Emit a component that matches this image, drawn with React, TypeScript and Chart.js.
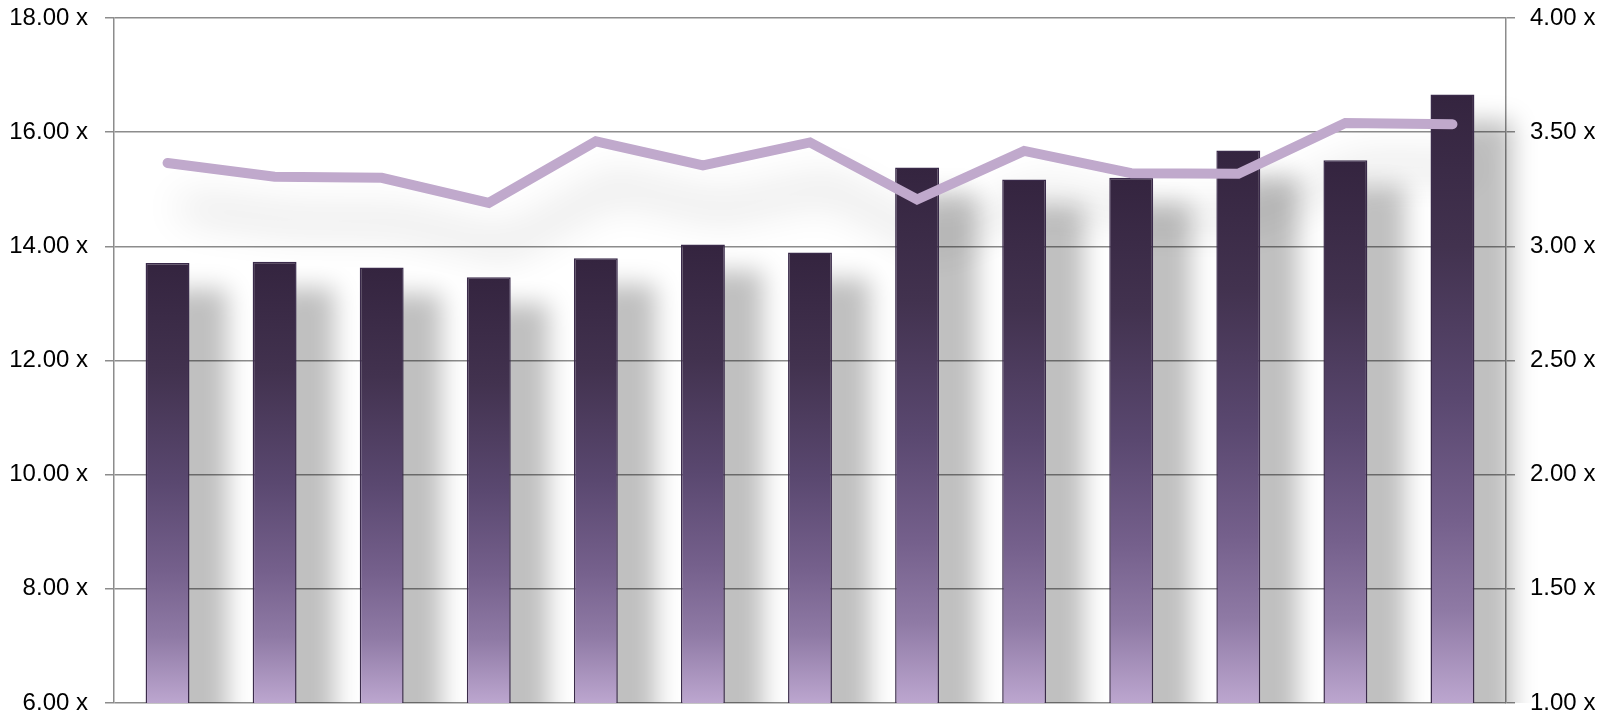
import React, { useEffect, useRef } from "react";
import { Chart, registerables } from "chart.js";

Chart.register(...registerables);

const categories = ["1", "2", "3", "4", "5", "6", "7", "8", "9", "10", "11", "12", "13"];
const barValues = [13.71, 13.73, 13.63, 13.46, 13.79, 14.03, 13.89, 15.38, 15.17, 15.2, 15.68, 15.51, 16.66];
const lineValues = [3.365, 3.305, 3.3, 3.19, 3.46, 3.355, 3.455, 3.205, 3.418, 3.32, 3.318, 3.54, 3.535];
const leftTicks = { min: 6, max: 18, step: 2 };
const rightTicks = { min: 1, max: 4, step: 0.5 };

const FONT = "'Liberation Sans', Arial, sans-serif";
const GRID = "#8c8c8c";

const shadowPlugin = {
  id: "softShadow",
  beforeDatasetsDraw(chart: any) {
    const ctx = chart.ctx;
    const area = chart.chartArea;
    const OFF = 5000;
    const metas = chart.getSortedVisibleDatasetMetas();
    ctx.save();
    ctx.beginPath();
    ctx.rect(area.left, area.top, area.right - area.left + 60, area.bottom - area.top);
    ctx.clip();
    // line shadow (soft, wide)
    for (const meta of metas) {
      if (meta.type !== "line") continue;
      ctx.save();
      ctx.translate(-OFF, 0);
      ctx.shadowColor = "rgba(0,0,0,0.24)";
      ctx.shadowOffsetX = OFF + 18;
      ctx.shadowOffsetY = 44;
      ctx.shadowBlur = 40;
      meta.controller.draw();
      ctx.restore();
    }
    // bar shadows
    for (const meta of metas) {
      if (meta.type !== "bar") continue;
      ctx.save();
      ctx.translate(-OFF, 0);
      ctx.shadowColor = "rgba(0,0,0,0.25)";
      ctx.shadowOffsetX = OFF + 38;
      ctx.shadowOffsetY = 26;
      ctx.shadowBlur = 24;
      ctx.fillStyle = "#000";
      for (const el of meta.data) {
        const p = el.getProps(["x", "y", "base", "width"], true);
        ctx.fillRect(p.x - p.width / 2 - 16, p.y, p.width + 16, p.base - p.y + 40);
      }
      ctx.restore();
    }
    ctx.restore();
  },
};

function barGradient(context: any) {
  const chart = context.chart;
  const area = chart.chartArea;
  if (!area || context.type !== "data") return "#5a4670";
  const yScale = chart.scales.y;
  const top = yScale.getPixelForValue(context.raw);
  const bottom = area.bottom;
  const g = chart.ctx.createLinearGradient(0, top, 0, bottom);
  g.addColorStop(0, "#34243f");
  g.addColorStop(0.25, "#42324f");
  g.addColorStop(0.5, "#5a4870");
  g.addColorStop(0.7, "#75608c");
  g.addColorStop(0.85, "#8f7aa5");
  g.addColorStop(1, "#bca6cf");
  return g;
}

export default function App() {
  const ref = useRef<HTMLCanvasElement | null>(null);

  useEffect(() => {
    if (!ref.current) return;
    const chart = new Chart(ref.current, {
      type: "bar",
      data: {
        labels: categories,
        datasets: [
          {
            type: "line",
            data: lineValues,
            yAxisID: "y1",
            borderColor: "#c0a9cc",
            borderWidth: 10,
            borderCapStyle: "round",
            borderJoinStyle: "miter",
            pointRadius: 0,
            tension: 0,
            order: 0,
          } as any,
          {
            type: "bar",
            data: barValues,
            yAxisID: "y",
            backgroundColor: barGradient,
            borderColor: "#3a2a4a",
            borderWidth: 1.5,
            barPercentage: 0.41,
            categoryPercentage: 1,
            order: 1,
          } as any,
        ],
      },
      options: {
        responsive: false,
        animation: false,
        events: [],
        layout: { padding: { top: 18, bottom: 11, left: 0, right: 0 } },
        plugins: { legend: { display: false }, tooltip: { enabled: false } },
        scales: {
          x: { type: "category", display: false, offset: true, grid: { display: false } },
          y: {
            position: "left",
            min: leftTicks.min,
            max: leftTicks.max,
            ticks: {
              stepSize: leftTicks.step,
              callback: (v: any) => Number(v).toFixed(2) + " x",
              color: "#000",
              font: { family: FONT, size: 24 },
              padding: 17,
            },
            grid: { color: GRID, lineWidth: 1.5, tickLength: 9, tickColor: GRID },
            border: { color: GRID, width: 1.5 },
            afterFit: (s: any) => {
              s.width = 114;
              s.paddingTop = 0;
              s.paddingBottom = 0;
            },
          },
          y1: {
            position: "right",
            min: rightTicks.min,
            max: rightTicks.max,
            ticks: {
              stepSize: rightTicks.step,
              callback: (v: any) => Number(v).toFixed(2) + " x",
              color: "#000",
              font: { family: FONT, size: 24 },
              padding: 15,
            },
            grid: { drawOnChartArea: false, color: GRID, lineWidth: 1.5, tickLength: 9, tickColor: GRID },
            border: { color: GRID, width: 1.5 },
            afterFit: (s: any) => {
              s.width = 109;
              s.paddingTop = 0;
              s.paddingBottom = 0;
            },
          },
        },
      } as any,
      plugins: [shadowPlugin],
    });
    return () => chart.destroy();
  }, []);

  return (
    <div style={{ position: "absolute", left: 0, top: 0, width: 1615, height: 714, background: "#fff" }}>
      <canvas ref={ref} width={1615} height={714} style={{ display: "block" }} />
    </div>
  );
}
